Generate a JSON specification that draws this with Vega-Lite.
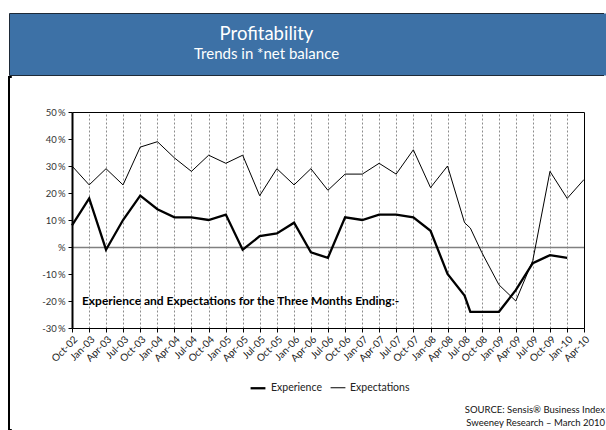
{
  "$schema": "https://vega.github.io/schema/vega-lite/v6.json",
  "background": "white",
  "padding": {"left": 8, "top": 12, "right": 0, "bottom": 0},
  "spacing": 0,
  "config": {
    "font": "Lato",
    "view": {"stroke": null}
  },
  "vconcat": [
    {
      "width": 597,
      "height": 62,
      "view": {
        "fill": "#3D71A6",
        "strokeWidth": 1,
        "stroke": {
          "gradient": "linear",
          "x1": 0, "y1": 0, "x2": 1, "y2": 0,
          "stops": [
            {"offset": 0, "color": "#1e2a38"},
            {"offset": 0.995, "color": "#1e2a38"},
            {"offset": 0.996, "color": "rgba(0,0,0,0)"},
            {"offset": 1, "color": "rgba(0,0,0,0)"}
          ]
        }
      },
      "data": {"values": [{}]},
      "layer": [
        {
          "mark": {"type": "text", "text": "Profitability", "font": "Lato", "fontSize": 18.5, "color": "white", "dx": -41, "dy": -4, "baseline": "alphabetic", "align": "center"}
        },
        {
          "mark": {"type": "text", "text": "Trends in *net balance", "font": "Lato", "fontSize": 15, "color": "white", "dx": -41, "dy": 15, "baseline": "alphabetic", "align": "center"}
        }
      ]
    },
    {
      "width": 596,
      "height": 353,
      "view": {
        "fill": "white",
        "strokeWidth": 2,
        "stroke": {
          "gradient": "linear",
          "x1": 0, "y1": 0, "x2": 1, "y2": 0,
          "stops": [
            {"offset": 0, "color": "black"},
            {"offset": 0.004, "color": "black"},
            {"offset": 0.005, "color": "rgba(0,0,0,0)"},
            {"offset": 1, "color": "rgba(0,0,0,0)"}
          ]
        }
      },
      "title": {
        "text": "SOURCE: Sensis® Business Index",
        "subtitle": "Sweeney Research – March 2010",
        "orient": "bottom",
        "anchor": "end",
        "frame": "group",
        "offset": -25,
        "fontSize": 9.5,
        "fontWeight": "normal",
        "subtitleFontSize": 9.5,
        "color": "#111111",
        "subtitleColor": "#111111",
        "subtitlePadding": 3
      },
      "data": {
        "values": [
          {"date": "2002-10-01", "series": "Experience", "value": 8},
          {"date": "2003-01-01", "series": "Experience", "value": 18},
          {"date": "2003-04-01", "series": "Experience", "value": -1},
          {"date": "2003-07-01", "series": "Experience", "value": 10},
          {"date": "2003-10-01", "series": "Experience", "value": 19},
          {"date": "2004-01-01", "series": "Experience", "value": 14},
          {"date": "2004-04-01", "series": "Experience", "value": 11},
          {"date": "2004-07-01", "series": "Experience", "value": 11},
          {"date": "2004-10-01", "series": "Experience", "value": 10},
          {"date": "2005-01-01", "series": "Experience", "value": 12},
          {"date": "2005-04-01", "series": "Experience", "value": -1},
          {"date": "2005-07-01", "series": "Experience", "value": 4},
          {"date": "2005-10-01", "series": "Experience", "value": 5},
          {"date": "2006-01-01", "series": "Experience", "value": 9},
          {"date": "2006-04-01", "series": "Experience", "value": -2},
          {"date": "2006-07-01", "series": "Experience", "value": -4},
          {"date": "2006-10-01", "series": "Experience", "value": 11},
          {"date": "2007-01-01", "series": "Experience", "value": 10},
          {"date": "2007-04-01", "series": "Experience", "value": 12},
          {"date": "2007-07-01", "series": "Experience", "value": 12},
          {"date": "2007-10-01", "series": "Experience", "value": 11},
          {"date": "2008-01-01", "series": "Experience", "value": 6},
          {"date": "2008-04-01", "series": "Experience", "value": -10},
          {"date": "2008-07-01", "series": "Experience", "value": -18},
          {"date": "2008-08-01", "series": "Experience", "value": -24},
          {"date": "2008-10-01", "series": "Experience", "value": -24},
          {"date": "2009-01-01", "series": "Experience", "value": -24},
          {"date": "2009-04-01", "series": "Experience", "value": -16},
          {"date": "2009-07-01", "series": "Experience", "value": -6},
          {"date": "2009-10-01", "series": "Experience", "value": -3},
          {"date": "2010-01-01", "series": "Experience", "value": -4},
          {"date": "2002-10-01", "series": "Expectations", "value": 30},
          {"date": "2003-01-01", "series": "Expectations", "value": 23},
          {"date": "2003-04-01", "series": "Expectations", "value": 29},
          {"date": "2003-07-01", "series": "Expectations", "value": 23},
          {"date": "2003-10-01", "series": "Expectations", "value": 37},
          {"date": "2004-01-01", "series": "Expectations", "value": 39},
          {"date": "2004-04-01", "series": "Expectations", "value": 33},
          {"date": "2004-07-01", "series": "Expectations", "value": 28},
          {"date": "2004-10-01", "series": "Expectations", "value": 34},
          {"date": "2005-01-01", "series": "Expectations", "value": 31},
          {"date": "2005-04-01", "series": "Expectations", "value": 34},
          {"date": "2005-07-01", "series": "Expectations", "value": 19},
          {"date": "2005-10-01", "series": "Expectations", "value": 29},
          {"date": "2006-01-01", "series": "Expectations", "value": 23},
          {"date": "2006-04-01", "series": "Expectations", "value": 29},
          {"date": "2006-07-01", "series": "Expectations", "value": 21},
          {"date": "2006-10-01", "series": "Expectations", "value": 27},
          {"date": "2007-01-01", "series": "Expectations", "value": 27},
          {"date": "2007-04-01", "series": "Expectations", "value": 31},
          {"date": "2007-07-01", "series": "Expectations", "value": 27},
          {"date": "2007-10-01", "series": "Expectations", "value": 36},
          {"date": "2008-01-01", "series": "Expectations", "value": 22},
          {"date": "2008-04-01", "series": "Expectations", "value": 30},
          {"date": "2008-07-01", "series": "Expectations", "value": 9},
          {"date": "2008-08-01", "series": "Expectations", "value": 7},
          {"date": "2008-10-01", "series": "Expectations", "value": -2},
          {"date": "2009-01-01", "series": "Expectations", "value": -14},
          {"date": "2009-04-01", "series": "Expectations", "value": -20},
          {"date": "2009-07-01", "series": "Expectations", "value": -5},
          {"date": "2009-10-01", "series": "Expectations", "value": 28},
          {"date": "2010-01-01", "series": "Expectations", "value": 18},
          {"date": "2010-04-01", "series": "Expectations", "value": 25}
        ]
      },
      "layer": [
        {
          "mark": {"type": "line", "color": "black", "strokeJoin": "miter"},
          "encoding": {
            "x": {
              "field": "date",
              "type": "temporal",
              "scale": {
                "type": "utc",
                "domain": [
                  {"year": 2002, "month": 10, "date": 1, "utc": true},
                  {"year": 2010, "month": 4, "date": 1, "utc": true}
                ],
                "range": [63, 575],
                "nice": false
              },
              "axis": {
                "orient": "bottom",
                "offset": -102,
                "tickCount": {"interval": "month", "step": 3},
                "labelExpr": "utcFormat(datum.value, '%b-%y')",
                "labelAngle": -45,
                "labelOverlap": false,
                "labelFlush": false,
                "labelBound": false,
                "grid": false,
                "domainColor": "black",
                "domainWidth": 1,
                "tickColor": "black",
                "tickSize": 4,
                "labelFont": "Lato",
                "labelFontSize": 10,
                "labelColor": "#222222",
                "labelPadding": 2,
                "title": null
              }
            },
            "y": {
              "field": "value",
              "type": "quantitative",
              "scale": {"domain": [-30, 50], "range": [251, 35], "nice": false, "zero": false},
              "axis": {
                "orient": "left",
                "offset": -63,
                "values": [-30, -20, -10, 0, 10, 20, 30, 40, 50],
                "labelExpr": "datum.value === 0 ? '%' : datum.value + '\u2009%'",
                "domainColor": "black",
                "domainWidth": 2,
                "tickColor": "black",
                "tickSize": 4,
                "labelFont": "Lato",
                "labelFontSize": 9.5,
                "labelColor": "#333333",
                "labelPadding": 3,
                "grid": true,
                "gridColor": "#808080",
                "gridWidth": 1.5,
                "gridOpacity": {"condition": {"test": "datum.value === 0", "value": 1}, "value": 0},
                "title": null
              }
            },
            "strokeWidth": {
              "field": "series",
              "type": "ordinal",
              "scale": {"domain": ["Experience", "Expectations"], "range": [2.3, 1]},
              "legend": {
                "orient": "none",
                "legendX": 240,
                "legendY": 366,
                "direction": "horizontal",
                "title": null,
                "symbolType": "stroke",
                "symbolSize": 220,
                "symbolStrokeColor": "black",
                "labelFont": "Lato",
                "labelFontSize": 10.5,
                "labelColor": "#222222",
                "labelOffset": 4,
                "columnPadding": 6
              }
            }
          }
        },
        {
          "data": {"values": [{}]},
          "mark": {
            "type": "text",
            "text": "Experience and Expectations for the Three Months Ending:-",
            "align": "left",
            "baseline": "middle",
            "font": "Lato",
            "fontWeight": "bold",
            "fontSize": 12,
            "color": "black"
          },
          "encoding": {
            "x": {
              "datum": {"year": 2002, "month": 11, "date": 23, "utc": true},
              "type": "temporal",
              "axis": {
                "orient": "top",
                "offset": -35,
                "tickCount": {"interval": "month", "step": 3},
                "labels": false,
                "ticks": false,
                "domainColor": "black",
                "domainWidth": 1,
                "grid": true,
                "gridColor": "#8c8c8c",
                "gridDash": [2, 2],
                "gridWidth": 1,
                "title": null
              }
            },
            "y": {
              "datum": -20,
              "type": "quantitative",
              "axis": {
                "orient": "right",
                "offset": -21,
                "labels": false,
                "ticks": false,
                "grid": false,
                "domainColor": "black",
                "domainWidth": 1,
                "title": null
              }
            }
          }
        }
      ],
      "resolve": {"axis": {"x": "independent", "y": "independent"}}
    }
  ]
}
